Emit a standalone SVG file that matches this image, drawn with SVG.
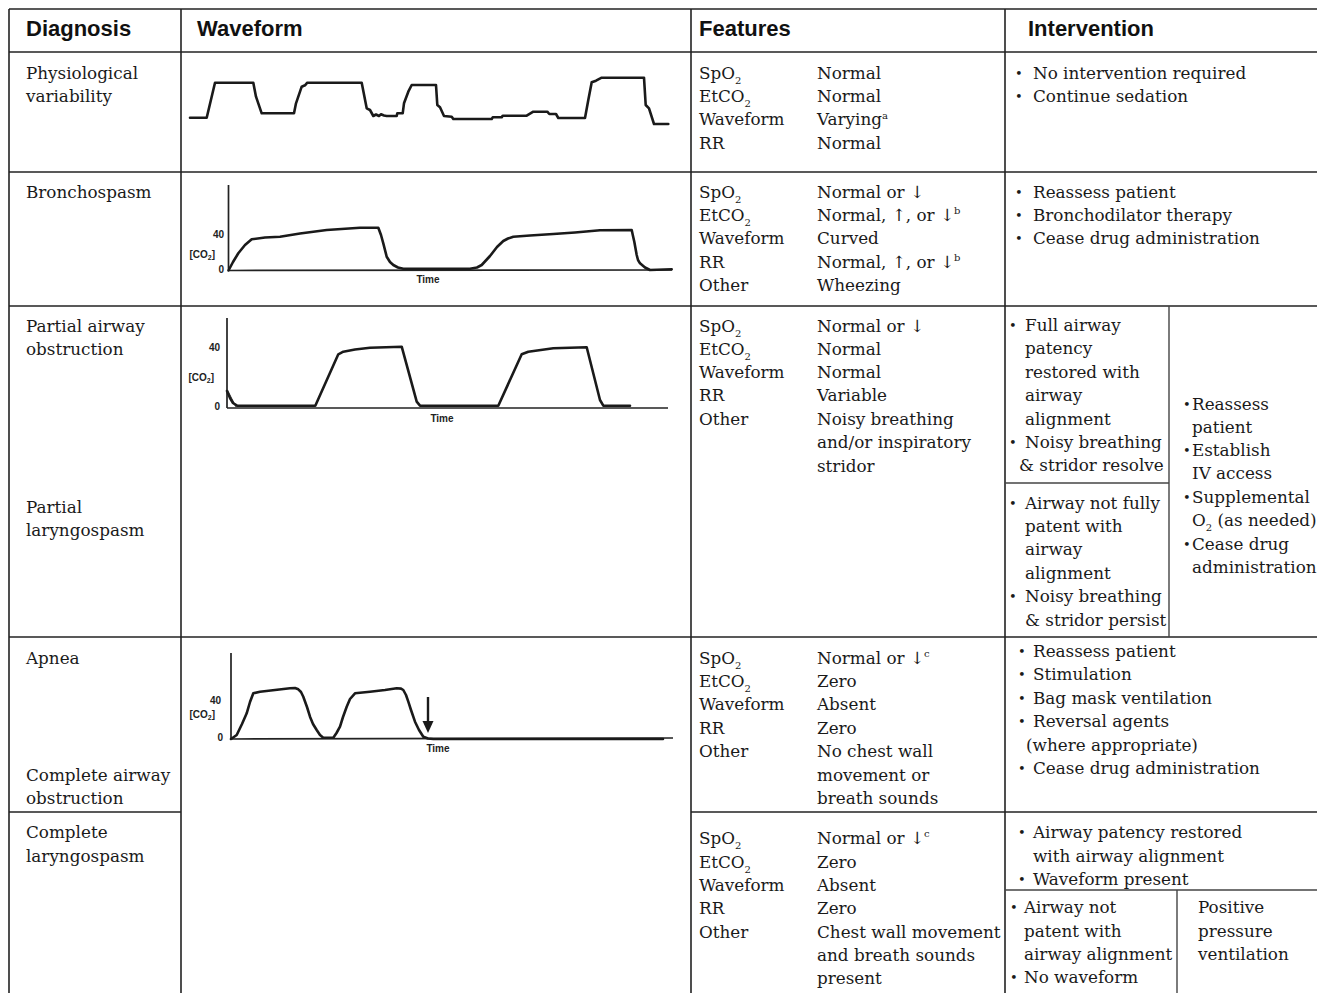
<svg xmlns="http://www.w3.org/2000/svg" width="1322" height="993" viewBox="0 0 1322 993">
<style>
.bg{fill:#fff}
.grid{fill:none;stroke:#222;stroke-width:1.6}
.sub-grid{fill:none;stroke:#444;stroke-width:1.4}
.h{font-family:"Liberation Sans",Arial,sans-serif;font-weight:bold;font-size:22px;fill:#111}
.t{font-family:"DejaVu Serif","Liberation Serif",serif;font-size:16.8px;fill:#1a1a1a}
.b{font-family:"DejaVu Serif","Liberation Serif",serif;font-size:13px;fill:#1a1a1a}
.sub{font-size:10px}
.sup{font-size:10px}
.wave{fill:none;stroke:#1a1a1a;stroke-width:2.6;stroke-linejoin:round;stroke-linecap:round}
.axis{fill:none;stroke:#222;stroke-width:1.7}
.lab{font-family:"Liberation Sans",Arial,sans-serif;font-weight:bold;font-size:10px;fill:#222}
</style>
<rect class="bg" x="0" y="0" width="1322" height="993"/>

<g id="connectors">
  <line class="grid" x1="9" y1="9" x2="1317" y2="9"/>
  <line class="grid" x1="9" y1="52" x2="1317" y2="52"/>
  <line class="grid" x1="9" y1="172" x2="1317" y2="172"/>
  <line class="grid" x1="9" y1="306" x2="1317" y2="306"/>
  <line class="grid" x1="9" y1="637" x2="1317" y2="637"/>
  <line class="grid" x1="9" y1="812" x2="181" y2="812"/>
  <line class="grid" x1="691" y1="812" x2="1317" y2="812"/>
  <line class="grid" x1="9" y1="9" x2="9" y2="993"/>
  <line class="grid" x1="181" y1="9" x2="181" y2="993"/>
  <line class="grid" x1="691" y1="9" x2="691" y2="993"/>
  <line class="grid" x1="1005" y1="9" x2="1005" y2="993"/>
  <line class="sub-grid" x1="1169" y1="306" x2="1169" y2="637"/>
  <line class="sub-grid" x1="1005" y1="483" x2="1169" y2="483"/>
  <line class="sub-grid" x1="1005" y1="890" x2="1317" y2="890"/>
  <line class="sub-grid" x1="1177" y1="890" x2="1177" y2="993"/>
</g>

<g id="header">
  <text class="h" x="26" y="36">Diagnosis</text>
  <text class="h" x="197" y="36">Waveform</text>
  <text class="h" x="699" y="36">Features</text>
  <text class="h" x="1028" y="36">Intervention</text>
</g>

<g id="row1-diagnosis">
  <text class="t" x="26" y="79">Physiological</text>
  <text class="t" x="26" y="102">variability</text>
</g>
<g id="row1-waveform">
  <polyline class="wave" points="190,117.7 206.7,117.7 215,82.7 253.3,82.7 256,96.7 261.7,113.3 294,113.3 296,103.3 301.7,86.7 305,85.3 307.3,82.7 361.7,82.7 366.7,108.3 370,110 373.3,116 376,114.5 379,116 381,114.3 384,115.5 386.7,116 396.7,116 397.3,113.3 402.7,113.3 404,103.3 408.3,91.7 411.7,85 436,85 437.3,105 440,107.3 444,116 451.7,116.7 453.3,119 491.7,119 492.7,117.3 501.7,117.3 502.7,115.7 526.7,115.7 533.3,111.7 547.3,111.7 549.3,114 556,114 558.3,118 585,118 588.3,100 591.7,82.3 596,80.7 601.7,77.7 644,77.7 645.7,105 649,108.3 654,124 668.3,124"/>
</g>
<g id="row1-features">
  <text class="t" x="699" y="79">SpO<tspan class="sub" dy="5">2</tspan></text>
  <text class="t" x="699" y="102">EtCO<tspan class="sub" dy="5">2</tspan></text>
  <text class="t" x="699" y="125">Waveform</text>
  <text class="t" x="699" y="149">RR</text>
  <text class="t" x="817" y="79">Normal</text>
  <text class="t" x="817" y="102">Normal</text>
  <text class="t" x="817" y="125">Varying<tspan class="sup" dy="-6">a</tspan></text>
  <text class="t" x="817" y="149">Normal</text>
</g>
<g id="row1-intervention">
  <text class="b" x="1015" y="78">•</text><text class="t" x="1033" y="79">No intervention required</text>
  <text class="b" x="1015" y="101">•</text><text class="t" x="1033" y="102">Continue sedation</text>
</g>

<g id="row2-diagnosis">
  <text class="t" x="26" y="198">Bronchospasm</text>
</g>
<g id="row2-waveform">
  <line class="axis" x1="228.5" y1="185" x2="228.5" y2="270.5"/>
  <line class="axis" x1="228.5" y1="270.5" x2="672" y2="270"/>
  <polyline class="wave" points="228.5,270.5 233,262 238.3,253.3 245,245 251.7,239.3 265,237.5 280,236.7 300,233.5 326.7,230 360,227.7 378.3,227.7 381,235 383.3,243.3 386.7,256.7 390,262 393.3,265 398,267.5 403.3,268.7 470,268.7 477,267.5 481.7,265 490,256 497,247 503.3,241 508,238.5 513.3,236.7 530,235.5 553.3,234 575,232.5 600,230.3 631.7,230 633,236 634.3,241.7 636.7,255 638,260 640,263.3 645,267.5 650,270 671.7,269.3"/>
  <text class="lab" x="224" y="238" text-anchor="end">40</text>
  <text class="lab" x="215" y="257.5" text-anchor="end">[CO<tspan font-size="7" dy="2">2</tspan><tspan dy="-2">]</tspan></text>
  <text class="lab" x="224" y="272.5" text-anchor="end">0</text>
  <text class="lab" x="428" y="282.5" text-anchor="middle">Time</text>
</g>
<g id="row2-features">
  <text class="t" x="699" y="198">SpO<tspan class="sub" dy="5">2</tspan></text>
  <text class="t" x="699" y="221">EtCO<tspan class="sub" dy="5">2</tspan></text>
  <text class="t" x="699" y="244">Waveform</text>
  <text class="t" x="699" y="268">RR</text>
  <text class="t" x="699" y="291">Other</text>
  <text class="t" x="817" y="198">Normal or ↓</text>
  <text class="t" x="817" y="221">Normal, ↑, or ↓<tspan class="sup" dy="-7">b</tspan></text>
  <text class="t" x="817" y="244">Curved</text>
  <text class="t" x="817" y="268">Normal, ↑, or ↓<tspan class="sup" dy="-7">b</tspan></text>
  <text class="t" x="817" y="291">Wheezing</text>
</g>
<g id="row2-intervention">
  <text class="b" x="1015" y="197">•</text><text class="t" x="1033" y="198">Reassess patient</text>
  <text class="b" x="1015" y="220">•</text><text class="t" x="1033" y="221">Bronchodilator therapy</text>
  <text class="b" x="1015" y="243">•</text><text class="t" x="1033" y="244">Cease drug administration</text>
</g>

<g id="row3-diagnosis">
  <text class="t" x="26" y="332">Partial airway</text>
  <text class="t" x="26" y="355">obstruction</text>
  <text class="t" x="26" y="513">Partial</text>
  <text class="t" x="26" y="536">laryngospasm</text>
</g>
<g id="row3-waveform">
  <line class="axis" x1="227" y1="318" x2="227" y2="408"/>
  <line class="axis" x1="227" y1="408" x2="668" y2="408"/>
  <path d="M227,389 L236,407" fill="none" stroke="#444" stroke-width="1"/>
  <polyline class="wave" points="227,391 230,398 233,403 237,405.7 315.3,405.7 338.3,354.3 343.3,351.7 355,349.5 370,347.7 401.7,346.7 416.7,401.7 420,405.7 498.3,405.7 521.7,354.3 528.3,351.7 553.3,348.3 586.7,347.3 600,400 603.3,405.7 630,405.7"/>
  <text class="lab" x="220" y="351" text-anchor="end">40</text>
  <text class="lab" x="214" y="381" text-anchor="end">[CO<tspan font-size="7" dy="2">2</tspan><tspan dy="-2">]</tspan></text>
  <text class="lab" x="220" y="409.5" text-anchor="end">0</text>
  <text class="lab" x="442" y="422" text-anchor="middle">Time</text>
</g>
<g id="row3-features">
  <text class="t" x="699" y="332">SpO<tspan class="sub" dy="5">2</tspan></text>
  <text class="t" x="699" y="355">EtCO<tspan class="sub" dy="5">2</tspan></text>
  <text class="t" x="699" y="378">Waveform</text>
  <text class="t" x="699" y="401">RR</text>
  <text class="t" x="699" y="425">Other</text>
  <text class="t" x="817" y="332">Normal or ↓</text>
  <text class="t" x="817" y="355">Normal</text>
  <text class="t" x="817" y="378">Normal</text>
  <text class="t" x="817" y="401">Variable</text>
  <text class="t" x="817" y="425">Noisy breathing</text>
  <text class="t" x="817" y="448">and/or inspiratory</text>
  <text class="t" x="817" y="472">stridor</text>
</g>
<g id="row3-intervention-resolve">
  <text class="b" x="1009" y="330">•</text><text class="t" x="1025" y="331">Full airway</text>
  <text class="t" x="1025" y="354">patency</text>
  <text class="t" x="1025" y="378">restored with</text>
  <text class="t" x="1025" y="401">airway</text>
  <text class="t" x="1025" y="425">alignment</text>
  <text class="b" x="1009" y="447">•</text><text class="t" x="1025" y="448">Noisy breathing</text>
  <text class="t" x="1019" y="471">&amp; stridor resolve</text>
</g>
<g id="row3-intervention-persist">
  <text class="b" x="1009" y="508">•</text><text class="t" x="1025" y="509">Airway not fully</text>
  <text class="t" x="1025" y="532">patent with</text>
  <text class="t" x="1025" y="555">airway</text>
  <text class="t" x="1025" y="579">alignment</text>
  <text class="b" x="1009" y="601">•</text><text class="t" x="1025" y="602">Noisy breathing</text>
  <text class="t" x="1025" y="626">&amp; stridor persist</text>
</g>
<g id="row3-intervention-common">
  <text class="b" x="1183" y="409">•</text><text class="t" x="1192" y="410">Reassess</text>
  <text class="t" x="1192" y="433">patient</text>
  <text class="b" x="1183" y="455">•</text><text class="t" x="1192" y="456">Establish</text>
  <text class="t" x="1192" y="479">IV access</text>
  <text class="b" x="1183" y="502">•</text><text class="t" x="1192" y="503">Supplemental</text>
  <text class="t" x="1192" y="526">O<tspan class="sub" dy="5">2</tspan><tspan dy="-5"> (as needed)</tspan></text>
  <text class="b" x="1183" y="549">•</text><text class="t" x="1192" y="550">Cease drug</text>
  <text class="t" x="1192" y="573">administration</text>
</g>

<g id="row4-diagnosis">
  <text class="t" x="26" y="664">Apnea</text>
  <text class="t" x="26" y="781">Complete airway</text>
  <text class="t" x="26" y="804">obstruction</text>
</g>
<g id="row4-waveform">
  <line class="axis" x1="231" y1="653" x2="231" y2="739"/>
  <line class="axis" x1="231" y1="739" x2="673" y2="738"/>
  <polyline class="wave" points="231,739 236.7,735 242,724 246.7,713.3 250,702 253.3,693.3 260,691.7 275,690 290,688.3 295,688 298.3,689.3 301,692 303.3,696.7 307,707 310,716.7 313,724 316.7,730 320,735 323.3,737.7 333.3,737.7 336.5,733 340,726.7 343,717 346.7,706.7 350,699 355,693.3 370,691.7 385,690 396.7,688.3 401,688.6 403.3,690 406,695 408.3,701.7 411,710 415,721.7 419,730 423.3,736.7 428,738.5 433.3,739 663,739"/>
  <line x1="428" y1="697" x2="428" y2="724" stroke="#1a1a1a" stroke-width="2.4"/>
  <polygon points="422.5,721 433.5,721 428,733" fill="#1a1a1a"/>
  <text class="lab" x="221" y="704" text-anchor="end">40</text>
  <text class="lab" x="215" y="718" text-anchor="end">[CO<tspan font-size="7" dy="2">2</tspan><tspan dy="-2">]</tspan></text>
  <text class="lab" x="223" y="740.5" text-anchor="end">0</text>
  <text class="lab" x="438" y="752" text-anchor="middle">Time</text>
</g>
<g id="row4-features">
  <text class="t" x="699" y="664">SpO<tspan class="sub" dy="5">2</tspan></text>
  <text class="t" x="699" y="687">EtCO<tspan class="sub" dy="5">2</tspan></text>
  <text class="t" x="699" y="710">Waveform</text>
  <text class="t" x="699" y="734">RR</text>
  <text class="t" x="699" y="757">Other</text>
  <text class="t" x="817" y="664">Normal or ↓<tspan class="sup" dy="-7">c</tspan></text>
  <text class="t" x="817" y="687">Zero</text>
  <text class="t" x="817" y="710">Absent</text>
  <text class="t" x="817" y="734">Zero</text>
  <text class="t" x="817" y="757">No chest wall</text>
  <text class="t" x="817" y="781">movement or</text>
  <text class="t" x="817" y="804">breath sounds</text>
</g>
<g id="row4-intervention">
  <text class="b" x="1018" y="656">•</text><text class="t" x="1033" y="657">Reassess patient</text>
  <text class="b" x="1018" y="679">•</text><text class="t" x="1033" y="680">Stimulation</text>
  <text class="b" x="1018" y="703">•</text><text class="t" x="1033" y="704">Bag mask ventilation</text>
  <text class="b" x="1018" y="726">•</text><text class="t" x="1033" y="727">Reversal agents</text>
  <text class="t" x="1026" y="751">(where appropriate)</text>
  <text class="b" x="1018" y="773">•</text><text class="t" x="1033" y="774">Cease drug administration</text>
</g>

<g id="row5-diagnosis">
  <text class="t" x="26" y="838">Complete</text>
  <text class="t" x="26" y="862">laryngospasm</text>
</g>
<g id="row5-features">
  <text class="t" x="699" y="844">SpO<tspan class="sub" dy="5">2</tspan></text>
  <text class="t" x="699" y="868">EtCO<tspan class="sub" dy="5">2</tspan></text>
  <text class="t" x="699" y="891">Waveform</text>
  <text class="t" x="699" y="914">RR</text>
  <text class="t" x="699" y="938">Other</text>
  <text class="t" x="817" y="844">Normal or ↓<tspan class="sup" dy="-7">c</tspan></text>
  <text class="t" x="817" y="868">Zero</text>
  <text class="t" x="817" y="891">Absent</text>
  <text class="t" x="817" y="914">Zero</text>
  <text class="t" x="817" y="938">Chest wall movement</text>
  <text class="t" x="817" y="961">and breath sounds</text>
  <text class="t" x="817" y="984">present</text>
</g>
<g id="row5-intervention-restored">
  <text class="b" x="1018" y="837">•</text><text class="t" x="1033" y="838">Airway patency restored</text>
  <text class="t" x="1033" y="862">with airway alignment</text>
  <text class="b" x="1018" y="884">•</text><text class="t" x="1033" y="885">Waveform present</text>
</g>
<g id="row5-intervention-not-patent">
  <text class="b" x="1010" y="912">•</text><text class="t" x="1024" y="913">Airway not</text>
  <text class="t" x="1024" y="937">patent with</text>
  <text class="t" x="1024" y="960">airway alignment</text>
  <text class="b" x="1010" y="982">•</text><text class="t" x="1024" y="983">No waveform</text>
</g>
<g id="row5-intervention-ppv">
  <text class="t" x="1198" y="913">Positive</text>
  <text class="t" x="1198" y="937">pressure</text>
  <text class="t" x="1198" y="960">ventilation</text>
</g>
</svg>
